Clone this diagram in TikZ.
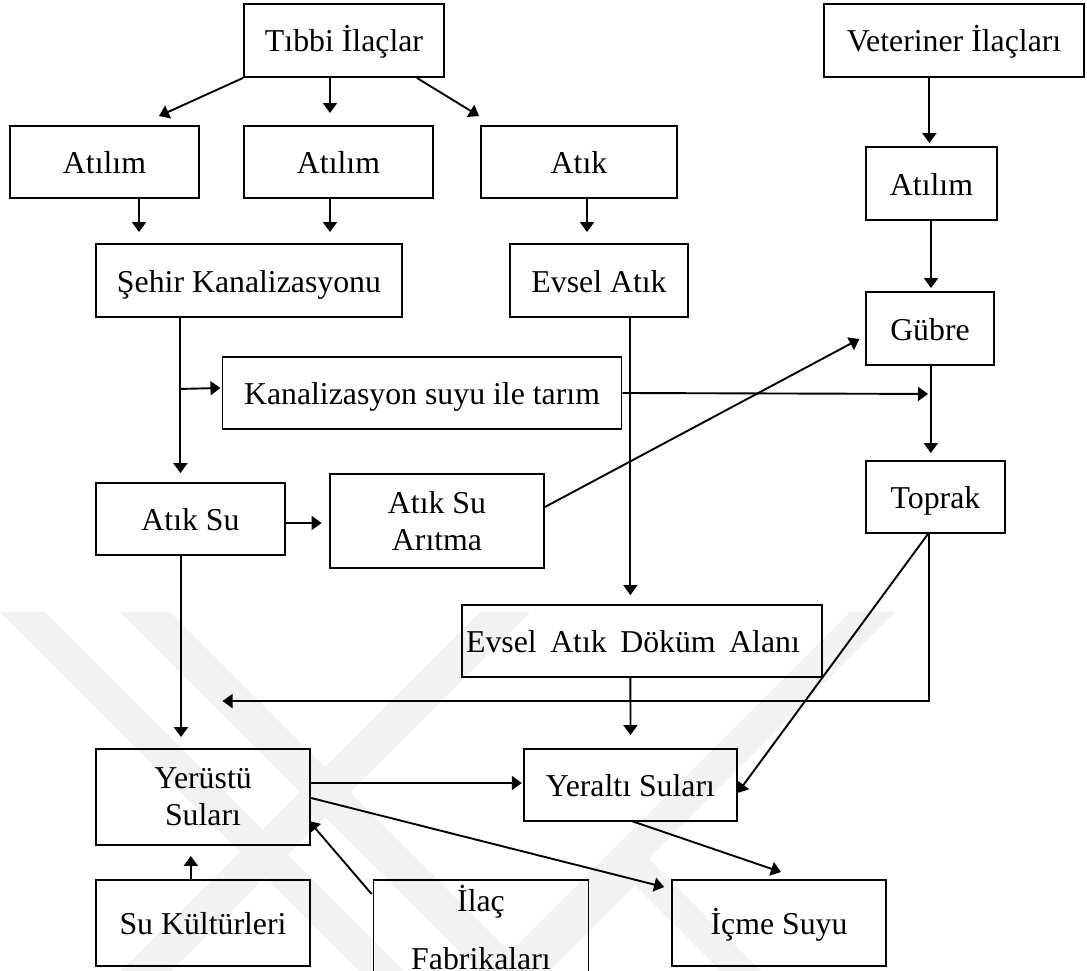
\documentclass[tikz,border=0pt]{standalone}
\usepackage{fontspec}
\setmainfont{Liberation Serif}
\usetikzlibrary{arrows.meta,calc}
\begin{document}
\begin{tikzpicture}[x=1pt,y=-1pt,
  box/.style={draw, line width=1.9pt, rectangle, inner sep=0pt, align=center,
    font=\fontsize{31.8}{37}\selectfont},
  one/.style={box, text height=23pt, text depth=0pt},
  arr/.style={line width=1.9pt, -{Triangle[length=10pt,width=14pt]}},
  wm/.style={fill=black!5, draw=none}
]
\clip (0,0) rectangle (1087,971);
\fill[white] (0,0) rectangle (1087,971);
% faint background watermark
\fill[wm] (0,612) -- (45,612) -- (404,971) -- (359,971) -- cycle;
\fill[wm] (120,612) -- (170,612) -- (529,971) -- (479,971) -- cycle;
\fill[wm] (480,612) -- (530,612) -- (171,971) -- (121,971) -- cycle;
\fill[wm] (850,612) -- (895,612) -- (536,971) -- (491,971) -- cycle;
\fill[wm] (635,845) -- (761,971) -- (721,971) -- (635,885) -- (549,971) -- (509,971) -- cycle;

% nodes
\node[one, minimum width=200pt, minimum height=73pt] (tibbi) at (344,40.5) {Tıbbi İlaçlar};
\node[one, minimum width=189pt, minimum height=72pt] (atilim1) at (104.5,162) {Atılım};
\node[one, minimum width=189pt, minimum height=72pt] (atilim2) at (338.5,162) {Atılım};
\node[one, minimum width=196pt, minimum height=72pt] (atik) at (579,162) {Atık};
\node[one, minimum width=306pt, minimum height=73pt] (sehir) at (249,280.5) {Şehir Kanalizasyonu};
\node[one, minimum width=178pt, minimum height=73pt] (evsel) at (599,280.5) {Evsel Atık};
\node[one, minimum width=260pt, minimum height=73pt] (vet) at (954,40.5) {Veteriner İlaçları};
\node[one, minimum width=131pt, minimum height=73pt] (atilim3) at (931.5,183.5) {Atılım};
\node[one, minimum width=127.5pt, minimum height=73pt] (gubre) at (930,328.5) {Gübre};
\node[one, minimum width=399pt, minimum height=72pt] (kanal) at (422,393) {Kanalizasyon suyu ile tarım};
\node[one, minimum width=189pt, minimum height=72pt] (atiksu) at (190.5,519) {Atık Su};
\node[box, minimum width=214pt, minimum height=94pt] (aritma) at (437,521) {Atık Su\\Arıtma};
\node[one, minimum width=139pt, minimum height=72pt] (toprak) at (935.5,497) {Toprak};
\node[one, minimum width=360pt, minimum height=72pt] (dokum) at (642,641) {\hspace*{-18pt}Evsel\hspace{13.5pt}Atık\hspace{13.5pt}Döküm\hspace{13.5pt}Alanı};
\node[box, minimum width=214.5pt, minimum height=96pt] (yerustu) at (203,797) {Yerüstü\\Suları};
\node[one, minimum width=213.5pt, minimum height=72pt] (yeralti) at (630.5,785) {Yeraltı Suları};
\node[one, minimum width=214.5pt, minimum height=86pt] (icme) at (779,923) {İçme Suyu};
\node[one, minimum width=214.5pt, minimum height=86pt] (sukultur) at (203,923) {Su Kültürleri};
\node[box, minimum width=215pt, minimum height=96pt] (ilac) at (481,928) {İlaç\\[21pt]Fabrikaları};

% free ends
\coordinate (kt) at ($(gubre.south)+(-2,28)$);
\coordinate (sw) at ($(yerustu.north)+(19.5,-47)$);
\coordinate (br) at ($(sehir.south)+(-68.6,71)$);

% connectors
\draw[arr] (tibbi.south west) -- ($(atilim1.north)+(54.5,-9)$);
\draw[arr] ($(tibbi.south)+(-14,0)$) -- ($(atilim2.north)+(-8.5,-12)$);
\draw[arr] ($(tibbi.south east)+(-28,0)$) -- ($(atik.north west)+(-1,-9)$);
\draw[arr] ($(atilim1.south)+(34.5,0)$) -- ($(sehir.north)+(-110,-11)$);
\draw[arr] ($(atilim2.south)+(-8.5,0)$) -- ($(sehir.north)+(81,-11)$);
\draw[arr] ($(atik.south)+(8,0)$) -- ($(evsel.north)+(-12,-11)$);
\draw[arr] ($(vet.south)+(-24.6,0)$) -- ($(atilim3.north)+(-2.1,-3)$);
\draw[arr] ($(atilim3.south)+(-0.5,0)$) -- ($(gubre.north)+(1,-3)$);
\draw[arr] ($(gubre.south)+(0.8,0)$) -- ($(toprak.north)+(-4.7,-7)$);
\draw[arr] ($(sehir.south)+(-68.6,0)$) -- ($(atiksu.north)+(-10.1,-9)$);
\draw[arr] (br) -- ($(kanal.west)+(-1.1,-5)$);
\draw[arr] (kanal.east) -- (kt);
\draw[arr] ($(atiksu.east)+(0,4)$) -- ($(aritma.west)+(-7.4,2)$);
\draw[arr] ($(aritma.east)+(0,-14)$) -- ($(gubre.west)+(-5.9,10.5)$);
\draw[arr] ($(evsel.south)+(31.4,0)$) -- ($(dokum.north)+(-11.6,-9)$);
\draw[arr] ($(atiksu.south)+(-9.5,0)$) -- ($(yerustu.north)+(-22,-11)$);
\draw[arr] ($(toprak.south)+(-6.1,0)$) |- (sw);
\draw[arr] ($(toprak.south)+(-7.5,0)$) -- ($(yeralti.east)+(-0.7,8)$);
\draw[arr] ($(dokum.south)+(-11.6,0)$) -- ($(yeralti.north)+(0,-13)$);
\draw[arr] ($(yerustu.east)+(0,-14)$) -- ($(yeralti.west)+(-1,-2)$);
\draw[arr] ($(yerustu.east)+(0,1)$) -- ($(icme.north west)+(-6.7,8)$);
\draw[arr] ($(yeralti.south)+(0.9,-1)$) -- ($(icme.north)+(2,-7)$);
\draw[arr] ($(sukultur.north)+(-12.2,0)$) -- ($(yerustu.south)+(-12.2,10)$);
\draw[arr] ($(ilac.north west)+(-0.9,15)$) -- ($(yerustu.east)+(-2.2,24)$);
\end{tikzpicture}
\end{document}
